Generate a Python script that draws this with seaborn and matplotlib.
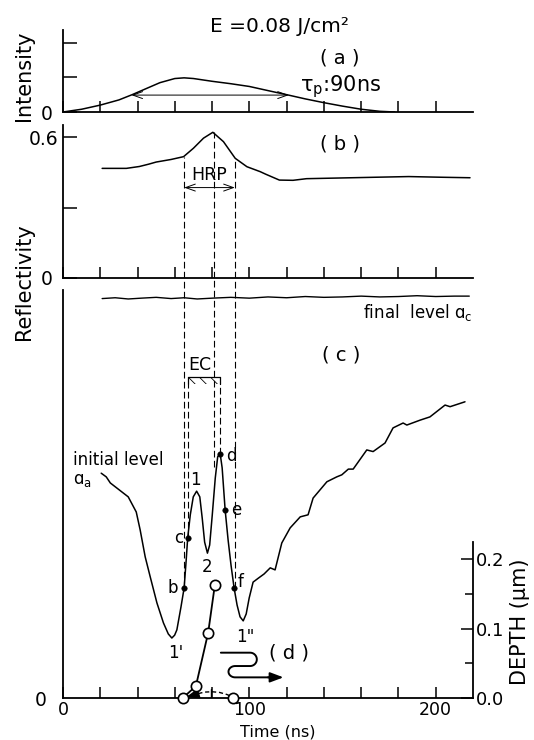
import matplotlib
matplotlib.use("Agg")
import numpy as np
import pandas as pd
import matplotlib.pyplot as plt
import seaborn as sns

# ----------------------------- data -----------------------------
# (a) laser pulse intensity (normalised)
pulse_t = [0, 10, 20, 30, 37, 46, 52, 60, 65, 70, 80, 90, 100, 110, 121, 130, 140, 150, 160, 170, 178]
pulse_i = [0.0, 0.08, 0.2, 0.35, 0.5, 0.71, 0.85, 0.97, 0.99, 0.97, 0.89, 0.82, 0.74, 0.62, 0.49, 0.38,
           0.27, 0.17, 0.08, 0.02, 0.0]
pulse_fwhm_t = [36.7, 121.2]
pulse_half = 0.49

# (b) reflectivity
refl_t = [21, 34, 41, 46, 50, 58, 64.7, 70, 75.4, 80.4, 86.1, 92.4, 98.7, 105.8, 108.8, 116.1, 123.4,
          130.7, 149, 167, 185.5, 203.8, 218.4]
refl_v = [0.468, 0.468, 0.476, 0.486, 0.495, 0.506, 0.518, 0.554, 0.597, 0.622, 0.582, 0.511, 0.475,
          0.454, 0.443, 0.418, 0.417, 0.424, 0.427, 0.430, 0.433, 0.430, 0.428]
hrp_t = [65.0, 80.8, 92.2]
hrp_top_b = [0.518, 0.622, 0.513]
hrp_end_c = [0.270, 0.567, 0.270]
hrp_arrow_v = 0.386

# (c) reflectivity transient
curve_t = [20.5, 23.2, 25.4, 30.2, 35.0, 39.3, 41.4, 44.1, 46.8, 50.4, 53.9, 56.5, 58.4, 59.9, 61.1, 63.3,
           65.0, 66.1, 66.9, 68.3, 69.9, 71.7, 73.4, 74.7, 76.0, 77.5, 78.7, 80.1, 81.7, 83.0, 84.3, 85.4,
           87.0, 88.6, 90.2, 91.8, 93.4, 95.0, 96.7, 98.3, 99.9, 102.0, 104.9, 107.9, 111.2, 113.8, 117.4,
           121.9, 127.3, 131.5, 134.2, 141.6, 146.9, 149.6, 153.1, 155.7, 163.0, 166.4, 172.8, 177.1,
           182.5, 184.5, 191.6, 196.9, 205.0, 207.7, 215.7]
curve_v = [0.551, 0.542, 0.527, 0.510, 0.493, 0.456, 0.412, 0.346, 0.297, 0.233, 0.184, 0.157, 0.147,
           0.154, 0.167, 0.223, 0.270, 0.338, 0.392, 0.449, 0.493, 0.507, 0.493, 0.441, 0.382, 0.355,
           0.375, 0.449, 0.539, 0.591, 0.600, 0.564, 0.461, 0.387, 0.324, 0.270, 0.228, 0.199, 0.189,
           0.206, 0.245, 0.284, 0.294, 0.304, 0.319, 0.314, 0.380, 0.417, 0.444, 0.449, 0.490, 0.530,
           0.542, 0.547, 0.561, 0.561, 0.608, 0.604, 0.625, 0.662, 0.674, 0.669, 0.681, 0.689, 0.718,
           0.714, 0.726]
final_t = [21, 28, 35, 42, 50, 58, 65, 72, 80, 90, 100, 110, 120, 130, 140, 150, 160, 170, 180, 190,
           200, 210, 218]
final_v = [0.979, 0.981, 0.978, 0.980, 0.982, 0.979, 0.981, 0.978, 0.980, 0.982, 0.980, 0.983, 0.981,
           0.984, 0.982, 0.983, 0.985, 0.983, 0.984, 0.986, 0.984, 0.985, 0.985]
mark_names = ["b", "c", "d", "e", "f"]
mark_t = [65.0, 66.9, 84.0, 87.0, 91.8]
mark_v = [0.270, 0.392, 0.598, 0.461, 0.270]
ec_t = [66.9, 84.0]
ec_top, ec_bottom = 0.787, 0.770

# (d) melt depth
depth_t = [64.2, 71.3, 77.9, 81.5]
depth_v = [0.0, 0.017, 0.094, 0.163]
regrow_t = [91.3]
regrow_v = [0.0]
arc_t = [69, 72, 76, 80, 84, 88, 91.3]
arc_v = [0.004, 0.006, 0.0085, 0.009, 0.008, 0.005, 0.001]

x_ticks = [0, 20, 40, 60, 80, 100, 120, 140, 160, 180, 200]
x_labels = ["0", "", "", "", "", "100", "", "", "", "", "200"]

# ----------------------------- style -----------------------------
sns.set_style("ticks")
plt.rcParams["font.family"] = ["DejaVu Sans"]
plt.rcParams["mathtext.fontset"] = "dejavusans"
plt.rcParams["hatch.linewidth"] = 0.6
plt.rcParams["axes.linewidth"] = 1.3
plt.rcParams["text.color"] = "black"
plt.rcParams["axes.labelcolor"] = "black"
plt.rcParams["xtick.color"] = "black"
plt.rcParams["ytick.color"] = "black"
plt.rcParams["axes.edgecolor"] = "black"

W, H = 534, 740
fig = plt.figure(figsize=(W / 100, H / 100), dpi=100)


def box(x0, x1, ytop, ybot):
    return [x0 / W, 1 - ybot / H, (x1 - x0) / W, (ybot - ytop) / H]


XL, XR = 63, 473
ax_a = fig.add_axes(box(XL, XR, 30.5, 112))
ax_b = fig.add_axes(box(XL, XR, 125.5, 278))
ax_c = fig.add_axes(box(XL, XR, 290, 698))
ax_d = fig.add_axes(box(XL, XR, 541.7, 698))

K = "black"
DASH = (0, (6, 3))

for ax in (ax_a, ax_b, ax_c):
    ax.set_xlim(0, 220)
    ax.spines["top"].set_visible(False)
    ax.spines["right"].set_visible(False)
    ax.spines["left"].set_color(K)
    ax.spines["bottom"].set_color(K)
    ax.set_xticks(x_ticks)
    ax.tick_params(axis="x", direction="in", length=8, width=1.1, colors=K)
    ax.tick_params(axis="y", direction="in", length=10, width=1.1, colors=K, labelsize=13.5)
    ax.set_xlabel("")
    ax.set_ylabel("")
    ax.patch.set_visible(False)

# ---- (a)
ax_a.set_ylim(0, 2.362)
sns.lineplot(x=pulse_t, y=pulse_i, ax=ax_a, color=K, lw=1.1, sort=False, estimator=None)
ax_a.set_yticks([0, 1, 2])
ax_a.set_yticklabels(["0 ", "", ""])
ax_a.tick_params(axis="y", pad=3)
ax_a.set_xticklabels([])
ax_a.annotate("", xy=(pulse_fwhm_t[0], pulse_half), xytext=(pulse_fwhm_t[1], pulse_half),
              arrowprops=dict(arrowstyle="<->,head_length=0.7,head_width=0.25", lw=0.7, color=K,
                              shrinkA=0, shrinkB=0))
ax_a.text(148.7, 1.565, "( a )", fontsize=14, ha="center", va="center")
ax_a.text(149.2, 0.725, r"$\mathregular{τ_p}$:90ns", fontsize=15, ha="center", va="center")

# ---- (b)
ax_b.set_ylim(0, 0.651)
sns.lineplot(x=refl_t, y=refl_v, ax=ax_b, color=K, lw=1.1, sort=False, estimator=None)
ax_b.set_yticks([0, 0.3, 0.6])
ax_b.set_yticklabels(["0 ", "", "0.6"])
ax_b.tick_params(axis="y", pad=3)
ax_b.set_xticklabels([])
for t, top in zip(hrp_t, hrp_top_b):
    ax_b.plot([t, t], [0, top], color=K, lw=0.8, ls=DASH)
ax_b.annotate("", xy=(hrp_t[0], hrp_arrow_v), xytext=(hrp_t[2], hrp_arrow_v),
              arrowprops=dict(arrowstyle="<->,head_length=0.7,head_width=0.25", lw=0.7, color=K,
                              shrinkA=0, shrinkB=0))
ax_b.text(78.4, 0.44, "HRP", fontsize=12.5, ha="center", va="center")
ax_b.text(148.7, 0.572, "( b )", fontsize=14, ha="center", va="center")

# ---- (c)
ax_c.set_ylim(0, 1)
sns.lineplot(x=curve_t, y=curve_v, ax=ax_c, color=K, lw=1.1, sort=False, estimator=None)
sns.lineplot(x=final_t, y=final_v, ax=ax_c, color=K, lw=1.0, sort=False, estimator=None)
sns.scatterplot(x=mark_t, y=mark_v, ax=ax_c, color=K, s=16, edgecolor=K, zorder=5)
ax_c.set_yticks([0])
ax_c.set_yticklabels(["0"])
ax_c.tick_params(axis="y", length=0, pad=12)
ax_c.set_xticklabels(x_labels)
ax_c.tick_params(axis="x", labelsize=12.5, pad=2)
# dashed guide lines from the HRP marks
for t, end in zip(hrp_t, hrp_end_c):
    ax_c.plot([t, t], [end, 1.03], color=K, lw=0.8, ls=DASH, clip_on=False)
# EC bracket
ax_c.fill_between(ec_t, ec_bottom, ec_top, facecolor="none", edgecolor=K, hatch="\\\\\\", linewidth=0)
ax_c.plot(ec_t, [ec_top, ec_top], color=K, lw=0.9)
for t in ec_t:
    ax_c.plot([t, t], [ec_bottom, ec_top], color=K, lw=0.9)
ax_c.plot([ec_t[0], ec_t[0]], [mark_v[1], ec_bottom], color=K, lw=0.8, ls=DASH)
ax_c.plot([ec_t[1], ec_t[1]], [mark_v[2], ec_bottom], color=K, lw=0.8, ls=DASH)
ax_c.text(73.4, 0.817, "EC", fontsize=12.5, ha="center", va="center")
ax_c.text(149.3, 0.841, "( c )", fontsize=14, ha="center", va="center")
ax_c.text(220, 0.944, r"final  level $\mathregular{ɑ_c}$", fontsize=12, ha="right", va="center")
ax_c.text(5.5, 0.583, "initial level", fontsize=12, ha="left", va="center")
ax_c.text(5.5, 0.534, r"$\mathregular{ɑ_a}$", fontsize=12, ha="left", va="center")
label_pos = {"1": (70.9, 0.534), "2": (77.2, 0.322), "1'": (60.5, 0.110), '1"': (97.9, 0.149),
             "b": (59.0, 0.269), "c": (62.0, 0.391), "d": (90.1, 0.593), "e": (92.9, 0.461),
             "f": (95.1, 0.285)}
for s, (x, y) in label_pos.items():
    ax_c.text(x, y, s, fontsize=12, ha="center", va="center")

# ---- (d)
ax_d.set_xlim(0, 220)
ax_d.set_ylim(0, 0.2249)
ax_d.patch.set_visible(False)
ax_d.set_zorder(ax_c.get_zorder() + 1)
for side in ("top", "left", "bottom"):
    ax_d.spines[side].set_visible(False)
ax_d.spines["right"].set_color(K)
ax_d.yaxis.tick_right()
ax_d.set_yticks([0.0, 0.1, 0.2])
ax_d.set_yticklabels(["0.0", "0.1", "0.2"])
ax_d.set_yticks([0.05, 0.15], minor=True)
ax_d.tick_params(axis="y", which="major", direction="in", length=9, width=1.1, pad=2, labelsize=13)
ax_d.tick_params(axis="y", which="minor", direction="in", length=5.5, width=1.1)
ax_d.set_xticks([])
ax_d.set_xlabel("")
ax_d.set_ylabel("")
sns.lineplot(x=depth_t, y=depth_v, ax=ax_d, color=K, lw=1.3, sort=False, estimator=None)
sns.lineplot(x=arc_t, y=arc_v, ax=ax_d, color=K, lw=1.0, ls=(0, (3, 2)), sort=False, estimator=None)
ax_d.annotate("", xy=(66.0, 0.001), xytext=(71.0, 0.005),
              arrowprops=dict(arrowstyle="-|>,head_length=0.8,head_width=0.3", lw=1.0, color=K,
                              shrinkA=0, shrinkB=0))
ax_d.plot([79.4, 79.4], [0.002, 0.013], color=K, lw=1.0)
sns.scatterplot(x=depth_t, y=depth_v, ax=ax_d, color="white", edgecolor=K, linewidth=1.2, s=55,
                zorder=6, clip_on=False)
sns.scatterplot(x=regrow_t, y=regrow_v, ax=ax_d, color="white", edgecolor=K, linewidth=1.2, s=55,
                zorder=6, clip_on=False)
ax_d.text(121.3, 0.0652, "( d )", fontsize=14, ha="center", va="center")
# S-shaped arrow
ang_r = np.linspace(np.pi / 2, -np.pi / 2, 30)
ang_l = np.linspace(np.pi / 2, 3 * np.pi / 2, 30)
sx = np.concatenate([[84.7, 100.4], 100.4 + 3.6 * np.cos(ang_r), [92.4],
                     92.4 + 3.6 * np.cos(ang_l), [112.0]])
sy = np.concatenate([[0.0652, 0.0652], 0.0556 + 0.0096 * np.sin(ang_r), [0.046],
                     0.03785 + 0.00815 * np.sin(ang_l), [0.0297]])
ax_d.plot(sx, sy, color=K, lw=1.4)
ax_d.annotate("", xy=(118.3, 0.0297), xytext=(110.0, 0.0297),
              arrowprops=dict(arrowstyle="-|>,head_length=0.8,head_width=0.3", lw=1.4, color=K,
                              shrinkA=0, shrinkB=0))

# ---- figure-level text
fig.text(279 / W, 1 - 27 / H, "E =0.08 J/cm²", fontsize=14.5, ha="center", va="center")
fig.text(24 / W, 1 - 76 / H, "Intensity", fontsize=15, rotation=90, ha="center", va="center")
fig.text(24 / W, 1 - 282 / H, "Reflectivity", fontsize=15, rotation=90, ha="center", va="center")
fig.text(278 / W, 0.5 / H, "Time (ns)", fontsize=11.5, ha="center", va="bottom")
fig.text(520 / W, 1 - 622 / H, "DEPTH (μm)", fontsize=15, rotation=90, ha="center", va="center")

fig.savefig("out.png", dpi=100, facecolor="white")
